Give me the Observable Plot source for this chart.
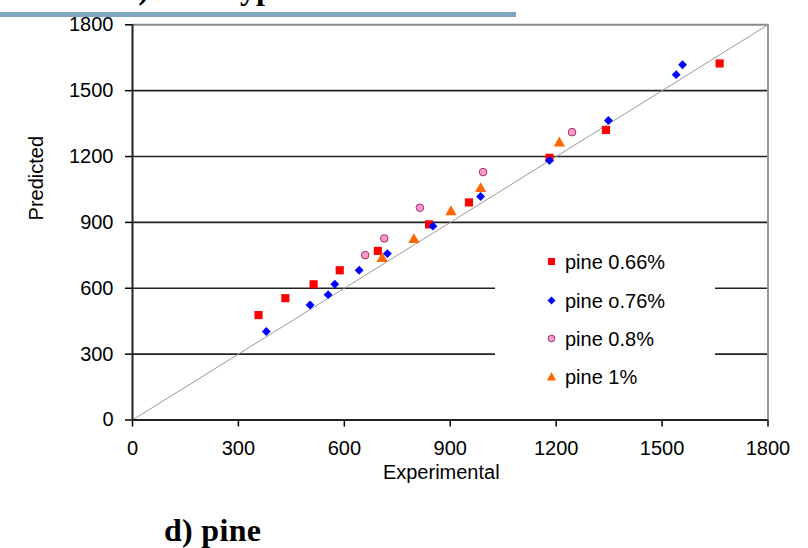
<!DOCTYPE html>
<html>
<head>
<meta charset="utf-8">
<script src="https://cdn.jsdelivr.net/npm/d3@7"></script>
<script src="https://cdn.jsdelivr.net/npm/@observablehq/plot@0.6"></script>
<style>
  html, body { margin: 0; padding: 0; background: #fff; }
  #wrap { position: relative; width: 808px; height: 548px; overflow: hidden; background: #fff; }
  #chart { position: absolute; left: 0; top: 0; }
  .bar { position: absolute; left: 0; top: 12px; width: 516px; height: 5px; background: #7ea8bf; }
  .toptitle { position: absolute; left: 124px; top: -28px; font: bold 32px "Liberation Serif", "DejaVu Serif", serif; line-height: 32px; white-space: nowrap; word-spacing: 5px; color: #000; }
  .subtitle { position: absolute; left: 164px; top: 514px; font: bold 32px "Liberation Serif", "DejaVu Serif", serif; line-height: 32px; letter-spacing: 0.3px; white-space: nowrap; color: #000; }
  .legend { position: absolute; left: 495px; top: 243px; width: 220px; height: 157px; background: #fff; font: 20px "Liberation Sans", Arial, sans-serif; color: #000; }
  .legend .item { position: absolute; left: 50px; height: 24px; line-height: 24px; white-space: nowrap; }
  .legend svg { position: absolute; left: 0; top: 4px; }
  .legend span { position: absolute; left: 20px; top: 0; }
</style>
</head>
<body>
<div id="wrap">
  <div id="chart"></div>
  <div class="bar"></div>
  <div class="toptitle">c) Eucalyptus</div>
  <div class="subtitle">d) pine</div>
  <div class="legend" id="legend"></div>
</div>
<script>
// ---- data ----
const seriesNames = ["pine 0.66%", "pine o.76%", "pine 0.8%", "pine 1%"];

const pine066 = [
  [357, 478], [433, 555], [513, 618], [587, 682], [695, 770],
  [840, 891], [953, 991], [1181, 1194], [1341, 1321], [1663, 1624]
];
const pine076 = [
  [379, 403], [503, 524], [554, 571], [573, 618], [642, 682], [722, 758],
  [851, 883], [986, 1018], [1181, 1182], [1348, 1364], [1540, 1573], [1558, 1618]
];
const pine08 = [
  [659, 751], [713, 827], [814, 967], [993, 1129], [1245, 1311]
];
const pine1 = [
  [707, 735], [797, 821], [902, 948], [986, 1053], [1209, 1261]
];

const xTicks = [0, 300, 600, 900, 1200, 1500, 1800];
const yTicks = [0, 300, 600, 900, 1200, 1500, 1800];
const gridY = [300, 600, 900, 1200, 1500];
const diagonal = [[0, 0], [1800, 1800]];

// ---- styles ----
const styles = [
  { symbol: "square", fill: "#ff0000", stroke: "none", r: 4.6 },
  { symbol: "diamond2", fill: "#0000ff", stroke: "none", r: 4.0 },
  { symbol: "circle", fill: "#ff99cc", stroke: "#993366", r: 3.8 },
  { symbol: "triangle", fill: "#ff6600", stroke: "none", r: 4.2 }
];
const allSeries = [pine066, pine076, pine08, pine1];

const toRows = (arr) => arr.map(([x, y]) => ({ x, y }));
const fmt = d => String(d);

const marks = [
  Plot.ruleY(gridY, { stroke: "#222", strokeWidth: 1.6 }),
  Plot.ruleY([1800], { stroke: "#888", strokeWidth: 2 }),
  Plot.ruleX([1800], { stroke: "#999", strokeWidth: 2 }),
  Plot.line(diagonal, { x: d => d[0], y: d => d[1], stroke: "#9a9a9a", strokeWidth: 1 }),
  Plot.axisX({ ticks: xTicks, tickFormat: fmt, tickSize: 7, tickPadding: 14, fontSize: 20, stroke: "#000", strokeWidth: 1.5, label: null }),
  Plot.axisY({ ticks: yTicks, tickFormat: fmt, tickSize: 7, tickPadding: 12, fontSize: 20, stroke: "#000", strokeWidth: 1.5, label: null }),
  Plot.ruleX([0], { stroke: "#222", strokeWidth: 2 }),
  Plot.ruleY([0], { stroke: "#222", strokeWidth: 2 }),
  Plot.text(["Experimental"], { x: 900, frameAnchor: "bottom", dy: 59, dx: -9, fontSize: 20, fill: "#000" }),
  Plot.text(["Predicted"], { y: 900, frameAnchor: "left", dx: -96, dy: -2, rotate: -90, fontSize: 20, fill: "#000" })
];
allSeries.forEach((s, i) => {
  const st = styles[i];
  marks.push(Plot.dot(toRows(s), {
    x: "x", y: "y", symbol: st.symbol, r: st.r,
    fill: st.fill, stroke: st.stroke, strokeWidth: 1
  }));
});

const chart = Plot.plot({
  width: 808,
  height: 548,
  marginLeft: 132,
  marginRight: 40.5,
  marginTop: 24.3,
  marginBottom: 128.5,
  x: { domain: [0, 1800], ticks: xTicks, label: null },
  y: { domain: [0, 1800], ticks: yTicks, label: null },
  style: { fontFamily: "'Liberation Sans', Arial, sans-serif", fontSize: "20px", color: "#000", background: "transparent" },
  marks
});
document.getElementById("chart").appendChild(chart);

// ---- legend ----
const legend = document.getElementById("legend");
const rowTops = [7, 46, 84, 122];
const legendSym = [
  '<rect x="3" y="4" width="7" height="7" fill="#ff0000"/>',
  '<path d="M6.5 3.5 L10.5 7.5 L6.5 11.5 L2.5 7.5 Z" fill="#0000ff"/>',
  '<circle cx="6.5" cy="7.5" r="3.3" fill="#ff99cc" stroke="#993366" stroke-width="1"/>',
  '<path d="M6.5 3 L11 11.5 L2 11.5 Z" fill="#ff6600"/>'
];
seriesNames.forEach((name, i) => {
  const item = document.createElement("div");
  item.className = "item";
  item.style.top = rowTops[i] + "px";
  item.innerHTML = `<svg width="14" height="16">${legendSym[i]}</svg><span>${name}</span>`;
  legend.appendChild(item);
});
</script>
</body>
</html>
